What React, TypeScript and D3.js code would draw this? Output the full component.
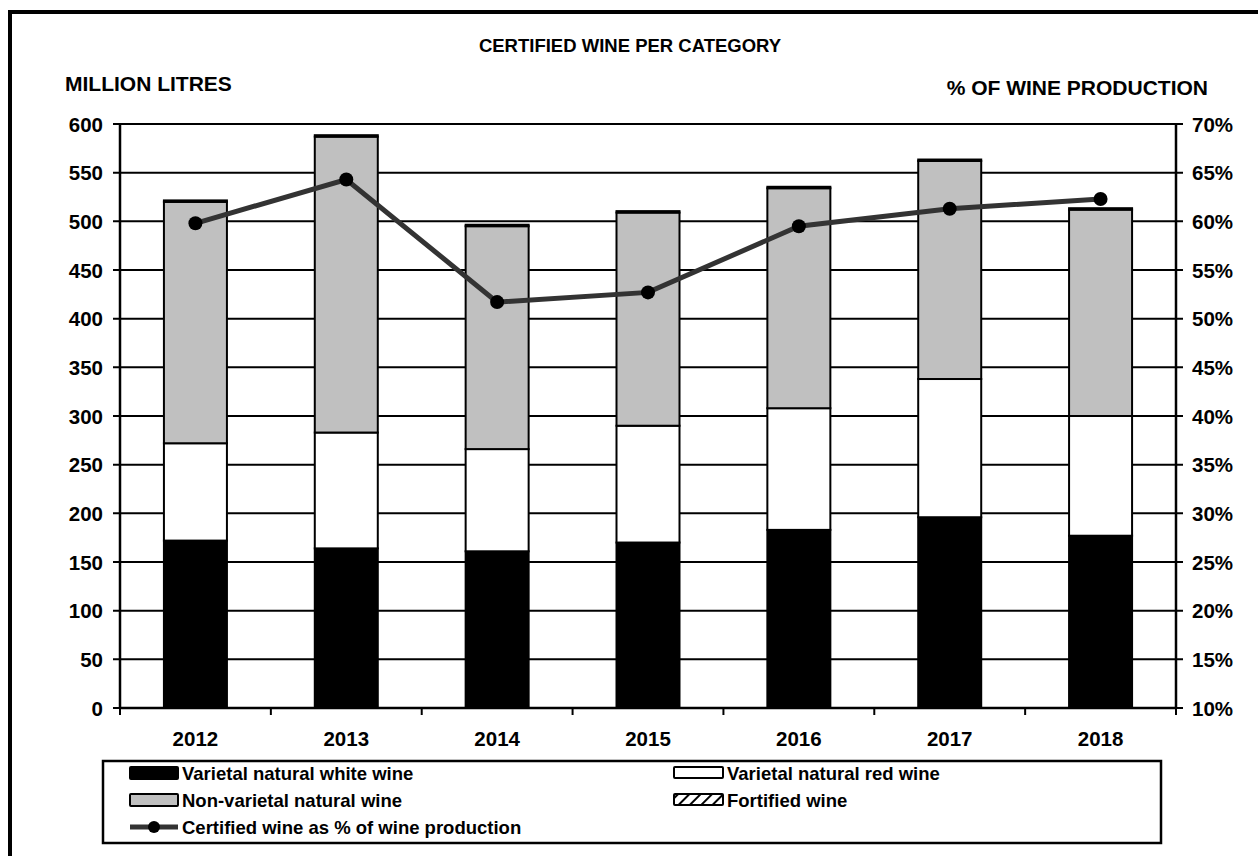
import React from "react";
import * as d3 from "d3";

const years = ["2012", "2013", "2014", "2015", "2016", "2017", "2018"];
const whiteWine = [172, 164, 161, 170, 183, 196, 177];
const redWine = [100, 119, 105, 120, 125, 142, 123];
const nonVarietal = [248, 304, 229, 219, 226, 224, 212];
const fortified = [1.5, 1.5, 1.5, 1.5, 1.5, 1.5, 1.5];
const certifiedPct = [59.8, 64.3, 51.7, 52.7, 59.5, 61.3, 62.3];
const leftTicks = [0, 50, 100, 150, 200, 250, 300, 350, 400, 450, 500, 550, 600];
const rightTicks = [10, 15, 20, 25, 30, 35, 40, 45, 50, 55, 60, 65, 70];

const W = 1258;
const H = 856;
const M = { left: 120, right: 1176, top: 124, bottom: 708 };
const FONT = "Liberation Sans, Arial, sans-serif";
const TICK_FS = 20.5;

export default function App() {
  const xOuter = d3.scaleBand().domain(years).range([M.left, M.right]);
  const y = d3.scaleLinear().domain([0, 600]).range([M.bottom, M.top]);
  const y2 = d3.scaleLinear().domain([10, 70]).range([M.bottom, M.top]);

  const series = [
    { key: "white", vals: whiteWine, fill: "#000000" },
    { key: "red", vals: redWine, fill: "#ffffff" },
    { key: "non", vals: nonVarietal, fill: "#c0c0c0" },
    { key: "fort", vals: fortified, fill: "url(#hatch)" },
  ];

  const cxOf = (i: number) => (xOuter(years[i]) as number) + xOuter.bandwidth() / 2;

  const line = d3
    .line<number>()
    .x((_, i) => cxOf(i))
    .y((d) => y2(d));

  const bw = 63;

  return (
    <svg width={W} height={H} style={{ position: "absolute", left: 0, top: 0 }} fontFamily={FONT}>
      <defs>
        <pattern id="hatch" patternUnits="userSpaceOnUse" width="8" height="8" patternTransform="rotate(45)">
          <rect width="8" height="8" fill="#fff" />
          <line x1="0" y1="0" x2="0" y2="8" stroke="#000" strokeWidth="4" />
        </pattern>
      </defs>
      <rect x={0} y={0} width={W} height={H} fill="#fff" />
      <rect x={10} y={12} width={W + 20} height={H + 20} fill="none" stroke="#000" strokeWidth={4} />

      <text x={630} y={52} textAnchor="middle" fontSize={18.5} fontWeight="bold">CERTIFIED WINE PER CATEGORY</text>
      <text x={65} y={91} fontSize={21} fontWeight="bold">MILLION LITRES</text>
      <text x={1208} y={95} textAnchor="end" fontSize={21} fontWeight="bold">% OF WINE PRODUCTION</text>

      {leftTicks.map((t) => (
        <g key={"g" + t}>
          <line x1={M.left - 7} x2={M.right + 7} y1={y(t)} y2={y(t)} stroke="#000" strokeWidth={2} />
          <text x={103} y={y(t) + 7.5} textAnchor="end" fontSize={TICK_FS} fontWeight="bold">{t}</text>
        </g>
      ))}
      {rightTicks.map((t) => (
        <text key={"r" + t} x={1192} y={y2(t) + 7.5} fontSize={TICK_FS} fontWeight="bold">{t}%</text>
      ))}

      {years.map((yr, i) => {
        let acc = 0;
        const cx = cxOf(i);
        return (
          <g key={yr}>
            {series.map((s) => {
              const v0 = acc;
              acc += s.vals[i];
              return (
                <rect
                  key={s.key}
                  x={cx - bw / 2}
                  y={y(acc)}
                  width={bw}
                  height={y(v0) - y(acc)}
                  fill={s.fill}
                  stroke="#000"
                  strokeWidth={2}
                />
              );
            })}
          </g>
        );
      })}

      <line x1={M.left} x2={M.left} y1={M.top} y2={M.bottom} stroke="#000" strokeWidth={2.5} />
      <line x1={M.right} x2={M.right} y1={M.top} y2={M.bottom} stroke="#000" strokeWidth={2.5} />
      <line x1={M.left} x2={M.right} y1={M.bottom} y2={M.bottom} stroke="#000" strokeWidth={2.5} />
      {years.map((yr) => (
        <line key={"xt" + yr} x1={xOuter(yr) as number} x2={xOuter(yr) as number} y1={M.bottom} y2={M.bottom + 7} stroke="#000" strokeWidth={2} />
      ))}
      <line x1={M.right} x2={M.right} y1={M.bottom} y2={M.bottom + 7} stroke="#000" strokeWidth={2} />
      {years.map((yr, i) => (
        <text key={"xl" + yr} x={cxOf(i)} y={746} textAnchor="middle" fontSize={TICK_FS} fontWeight="bold">{yr}</text>
      ))}

      <path d={line(certifiedPct) || ""} fill="none" stroke="#333333" strokeWidth={5} />
      {certifiedPct.map((p, i) => (
        <circle key={"c" + i} cx={cxOf(i)} cy={y2(p)} r={7} fill="#000" />
      ))}

      {/* Legend */}
      <rect x={103} y={761} width={1058} height={82} fill="#fff" stroke="#000" strokeWidth={2.5} />
      <rect x={130} y={767} width={48} height={12} fill="#000" stroke="#000" strokeWidth={2} rx={1} />
      <text x={182} y={780} fontSize={18.5} fontWeight="bold">Varietal natural white wine</text>
      <rect x={674} y={767} width={49} height={11} fill="#fff" stroke="#000" strokeWidth={2} rx={1} />
      <text x={727} y={780} fontSize={18.5} fontWeight="bold">Varietal natural red wine</text>
      <rect x={130} y={794} width={48} height={12} fill="#c0c0c0" stroke="#000" strokeWidth={2} rx={1} />
      <text x={182} y={807} fontSize={18.5} fontWeight="bold">Non-varietal natural wine</text>
      <rect x={674} y={794} width={49} height={11} fill="url(#hatch)" stroke="#000" strokeWidth={2} rx={1} />
      <text x={727} y={807} fontSize={18.5} fontWeight="bold">Fortified wine</text>
      <line x1={130} x2={178} y1={827} y2={827} stroke="#333" strokeWidth={5} />
      <circle cx={154} cy={827} r={6} fill="#000" />
      <text x={182} y={834} fontSize={18.5} fontWeight="bold">Certified wine as % of wine production</text>
    </svg>
  );
}
